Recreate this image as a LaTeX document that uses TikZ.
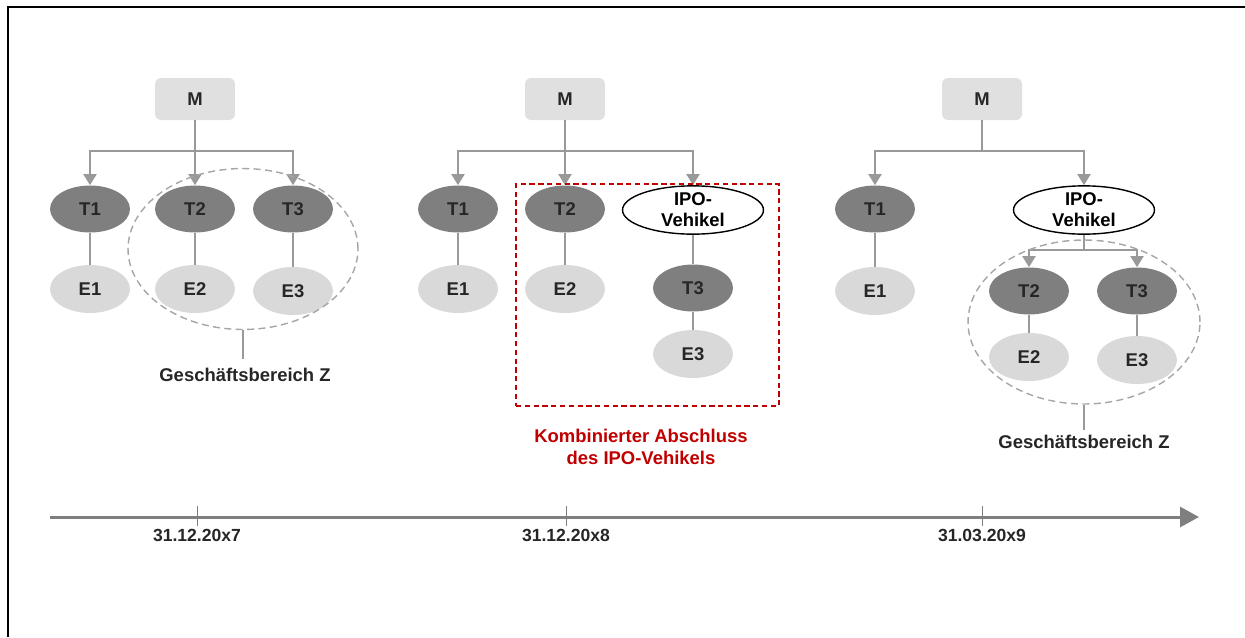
\documentclass[tikz,border=0pt]{standalone}
\usepackage{fontspec}
\setmainfont{Liberation Sans}
\usetikzlibrary{shapes.geometric,arrows.meta}
\definecolor{dk}{HTML}{7F7F7F}
\definecolor{lt}{HTML}{D9D9D9}
\definecolor{mbox}{HTML}{E0E0E0}
\definecolor{txt}{HTML}{262626}
\definecolor{con}{HTML}{999999}
\definecolor{dash}{HTML}{A6A6A6}
\definecolor{red1}{HTML}{C00000}
\tikzset{
  base/.style={font=\fontsize{10.5}{12}\selectfont\bfseries, text=txt, inner sep=0pt},
  tnode/.style={base, ellipse, fill=dk, minimum width=1.6cm, minimum height=0.94cm},
  enode/.style={base, ellipse, fill=lt, minimum width=1.6cm, minimum height=0.96cm},
  ipo/.style={base, ellipse, draw=black, line width=0.8pt, fill=white, minimum width=2.82cm, minimum height=0.96cm, align=center, text=black},
  mnode/.style={base, rounded corners=0.12cm, fill=mbox, minimum width=1.6cm, minimum height=0.84cm},
  conn/.style={draw=con, line width=1.1pt},
  arr/.style={conn, -{Triangle[width=0.26cm,length=0.22cm]}},
  zone/.style={draw=dash, line width=0.8pt, dash pattern=on 4pt off 2.5pt},
  lab/.style={font=\fontsize{10.5}{12.5}\selectfont\bfseries, text=txt, inner sep=0pt, align=center},
  datelab/.style={font=\fontsize{10}{11}\selectfont\bfseries, text=txt, inner sep=0pt},
}
\begin{document}
\begin{tikzpicture}[x=0.02cm, y=-0.02cm]
\useasboundingbox (0,0) rectangle (1245,637);
% frame
\draw[line width=1.4pt, black] (8,637) -- (8,7) -- (1245,7);

% ===== Panel 1 =====
\node[mnode] (M1) at (195,99) {M};
\node[tnode] (T11) at (90,209) {T1};
\node[tnode] (T12) at (195,209) {T2};
\node[tnode] (T13) at (293,209) {T3};
\node[enode] (E11) at (90,289) {E1};
\node[enode] (E12) at (195,289) {E2};
\node[enode] (E13) at (293,291) {E3};
\coordinate (b1) at (195,151);
\draw[conn] (M1.south) -- (b1);
\draw[arr] (b1) -| (T11.north);
\draw[arr] (b1) -- (T12.north);
\draw[arr] (b1) -| (T13.north);
\draw[conn] (T11) -- (E11);
\draw[conn] (T12) -- (E12);
\draw[conn] (T13) -- (E13);
\node[zone, ellipse, minimum width=4.6cm, minimum height=3.22cm, inner sep=0pt] (Z1) at (243,249) {};
\node[lab] (L1) at (245,375) {Geschäftsbereich Z};
\coordinate (z1b) at (243,359);
\draw[conn, line width=0.8pt] (Z1.south) -- (z1b);

% ===== Panel 2 =====
\node[mnode] (M2) at (565,99) {M};
\node[tnode] (T21) at (458,209) {T1};
\node[tnode] (T22) at (565,209) {T2};
\node[ipo] (V2) at (693,210) {IPO-\\Vehikel};
\node[enode] (E21) at (458,289) {E1};
\node[enode] (E22) at (565,289) {E2};
\node[tnode] (T23) at (693,288) {T3};
\node[enode] (E23) at (693,354) {E3};
\coordinate (b2) at (565,151);
\draw[conn] (M2.south) -- (b2);
\draw[arr] (b2) -| (T21.north);
\draw[arr] (b2) -- (T22.north);
\draw[arr] (b2) -| (V2.north);
\draw[conn] (T21) -- (E21);
\draw[conn] (T22) -- (E22);
\draw[conn] (V2) -- (T23);
\draw[conn] (T23) -- (E23);
\node[draw=red1, line width=0.9pt, dash pattern=on 3pt off 2pt, minimum width=5.26cm, minimum height=4.44cm, inner sep=0pt] (R2) at (647.5,295) {};
\node[lab, text=red1] (L2) at (641,447) {Kombinierter Abschluss\\des IPO-Vehikels};

% ===== Panel 3 =====
\node[mnode] (M3) at (982,99) {M};
\node[tnode] (T31) at (875,209) {T1};
\node[ipo] (V3) at (1084,210) {IPO-\\Vehikel};
\node[enode] (E31) at (875,291) {E1};
\node[tnode] (T32) at (1029,291) {T2};
\node[tnode] (T33) at (1137,291) {T3};
\node[enode] (E32) at (1029,357) {E2};
\node[enode] (E33) at (1137,360) {E3};
\coordinate (b3) at (982,151);
\draw[conn] (M3.south) -- (b3);
\draw[arr] (b3) -| (T31.north);
\draw[arr] (b3) -| (V3.north);
\coordinate (b4) at (1084,250);
\draw[conn] (V3.south) -- (b4);
\draw[arr] (b4) -| (T32.north);
\draw[arr] (b4) -| (T33.north);
\draw[conn] (T32) -- (E32);
\draw[conn] (T33) -- (E33);
\draw[conn] (T31) -- (E31);
\node[zone, ellipse, minimum width=4.64cm, minimum height=3.28cm, inner sep=0pt] (Z3) at (1084,322) {};
\node[lab] (L3) at (1084,442) {Geschäftsbereich Z};
\coordinate (z3b) at (1084,430);
\draw[conn, line width=0.8pt] (Z3.south) -- (z3b);

% ===== Timeline =====
\coordinate (ta) at (50,517);
\coordinate (tb) at (1199,517);
\draw[draw=dk, line width=1.7pt, -{Triangle[width=0.4cm,length=0.38cm]}] (ta) -- (tb);
\foreach \x/\d/\n in {197/31.12.20x7/1, 566/31.12.20x8/2, 982/31.03.20x9/3}{
  \coordinate (tk\n a) at (\x,506);
  \coordinate (tk\n b) at (\x,526);
  \draw[draw=dk, line width=0.5pt] (tk\n a) -- (tk\n b);
  \node[datelab] (D\n) at (\x,535) {\d};
}
\end{tikzpicture}
\end{document}
